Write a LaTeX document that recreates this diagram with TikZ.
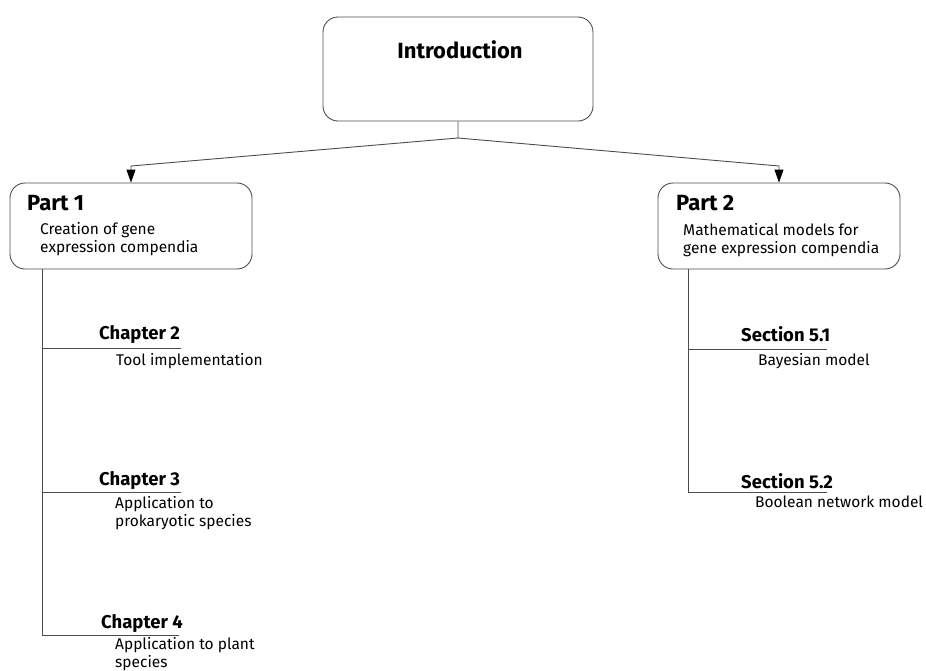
\documentclass[tikz,border=0pt]{standalone}
\usepackage{fontspec}
\setmainfont{Fira Sans}
\usetikzlibrary{arrows.meta}

\tikzset{
  box/.style={draw=black!70, line width=0.9pt, rounded corners=15pt, minimum width=242pt, minimum height=86pt, inner sep=0pt},
  conn/.style={draw=black!70, line width=0.9pt},
  tip/.style={-{Triangle[length=13pt,width=9pt,color=black,fill=black]}},
  head/.style={anchor=base west, inner sep=0pt, font=\bfseries\fontsize{18.5}{20}\selectfont},
  title/.style={anchor=base west, inner sep=0pt, font=\bfseries\fontsize{22}{24}\selectfont},
  body/.style={anchor=base west, inner sep=0pt, align=left, font=\fontsize{15.5}{18}\selectfont},
}

\begin{document}
\begin{tikzpicture}[x=1pt,y=-1pt,>=stealth]
\useasboundingbox (0,0) rectangle (926,670);

% boxes
\node[box, minimum width=270pt, minimum height=104pt] (intro) at (458,69) {};
\node[title, anchor=base] (introtitle) at (460,58) {Introduction};
\node[box] (part1) at (131,226) {};
\node[box] (part2) at (779,226) {};

\node[title] (part1title) at (27,210) {Part 1};
\node[body] (part1text) at (40,252) {Creation of gene\\expression compendia};
\node[title] (part2title) at (676,210) {Part 2};
\node[body] (part2text) at (683,253) {Mathematical models for\\gene expression compendia};

% links from the introduction
\coordinate (split) at (458,138);
\coordinate (bend1) at (131,166);
\coordinate (bend2) at (779,166);
\draw[conn, tip] (intro.south) -- (split) -- (bend1) -- (part1.north);
\draw[conn, tip] (split) -- (bend2) -- (part2.north);

% part 1 chapters
\coordinate (trunk1) at (42,269);
\coordinate (c2) at (42,348);
\coordinate (c2end) at (181,348);
\coordinate (c3) at (42,492);
\coordinate (c3end) at (181,492);
\coordinate (c4) at (42,635);
\coordinate (c4end) at (179,635);
\draw[conn] (trunk1) -- (c4);
\draw[conn] (c2) -- (c2end);
\draw[conn] (c3) -- (c3end);
\draw[conn] (c4) -- (c4end);

\node[head] (ch2) at (99,339) {Chapter 2};
\node[body] (ch2text) at (116,365) {Tool implementation};
\node[head] (ch3) at (99,485) {Chapter 3};
\node[body] (ch3text) at (115,526) {Application to\\prokaryotic species};
\node[head] (ch4) at (101,628) {Chapter 4};
\node[body] (ch4text) at (115,667) {Application to plant\\species};

% part 2 sections
\coordinate (trunk2) at (688,269);
\coordinate (s1) at (688,349);
\coordinate (s1end) at (827,349);
\coordinate (s2) at (688,492);
\coordinate (s2end) at (827,492);
\draw[conn] (trunk2) -- (s2);
\draw[conn] (s1) -- (s1end);
\draw[conn] (s2) -- (s2end);

\node[head] (sec1) at (741,341) {Section 5.1};
\node[body] (sec1text) at (758,365) {Bayesian model};
\node[head] (sec2) at (741,488) {Section 5.2};
\node[body] (sec2text) at (755,507) {Boolean network model};
\end{tikzpicture}
\end{document}
